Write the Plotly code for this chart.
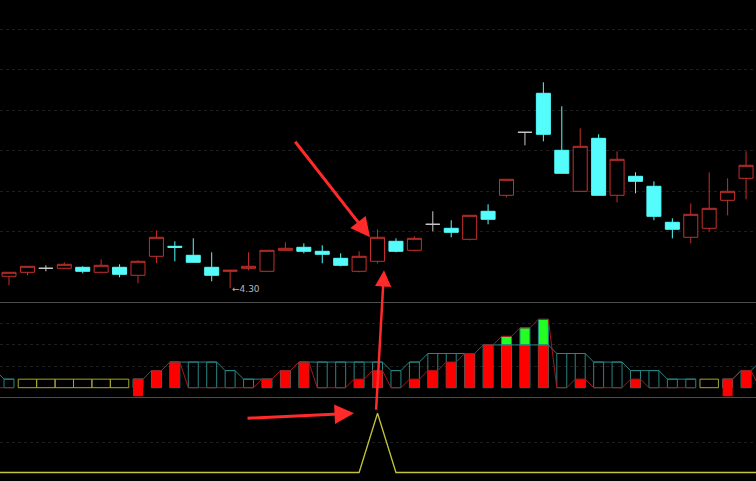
import plotly.graph_objects as go

# ---------------- price candles (bar index 0..40) ----------------
opens  = [4.42, 4.46, 4.50, 4.50, 4.51, 4.46, 4.51, 4.43, 4.62, 4.72,
          4.63, 4.51, 4.47, 4.50, 4.47, 4.68, 4.71, 4.67, 4.60, 4.47,
          4.57, 4.77, 4.68, 4.94, 4.90, 4.79, 5.07, 5.23, 5.86, 6.25,
          5.68, 5.27, 5.80, 5.23, 5.42, 5.32, 4.96, 4.81, 4.90, 5.18,
          5.40]
highs  = [4.46, 4.52, 4.53, 4.56, 4.52, 4.59, 4.54, 4.58, 4.88, 4.77,
          4.80, 4.66, 4.48, 4.66, 4.68, 4.76, 4.75, 4.73, 4.65, 4.67,
          4.89, 4.80, 4.82, 5.07, 4.98, 5.03, 5.14, 5.39, 5.86, 6.36,
          6.12, 5.90, 5.84, 5.67, 5.46, 5.37, 5.00, 5.15, 5.46, 5.40,
          5.67]
lows   = [4.33, 4.43, 4.47, 4.50, 4.45, 4.46, 4.41, 4.35, 4.55, 4.57,
          4.56, 4.37, 4.30, 4.48, 4.47, 4.68, 4.65, 4.55, 4.52, 4.46,
          4.55, 4.66, 4.67, 4.87, 4.81, 4.78, 4.94, 5.21, 5.73, 5.77,
          5.45, 5.27, 5.23, 5.16, 5.25, 4.98, 4.80, 4.75, 4.87, 5.03,
          5.19]
closes = [4.46, 4.52, 4.50, 4.54, 4.47, 4.53, 4.44, 4.57, 4.81, 4.71,
          4.56, 4.43, 4.48, 4.52, 4.68, 4.70, 4.67, 4.64, 4.53, 4.62,
          4.81, 4.67, 4.80, 4.94, 4.86, 5.03, 4.99, 5.39, 5.86, 5.84,
          5.45, 5.72, 5.23, 5.59, 5.37, 5.02, 4.89, 5.04, 5.10, 5.27,
          5.53]
low_label = "←4.30"
low_bar = 12

# ---------------- indicator panel (bar index -1..41) ----------------
ind_x = list(range(-1, 42))
teal_level = [2, 1, None, None, None, None, None, None, 1, 2, 3,
              3, 3, 2, 1, 1, 2, 3, 3, 3, 3,
              3, 2, 3, 4, 4, 4, 5, 5, 5, 5,
              4, 4, 3, 3, 2, 2, 1, 1, None, 1,
              2, 3]
yellow_level = [None, None, 1, 1, 1, 1, 1, 1, None, None, None,
                None, None, None, None, None, None, None, None, None, None,
                None, None, None, None, None, None, None, None, None, None,
                None, None, None, None, None, None, None, None, 1, None,
                None, None]
red_top = [None, None, None, None, None, None, None, None, 1, 2, 3,
           None, None, None, None, 1, 2, 3, None, None, 1,
           2, None, 1, 2, 3, 4, 5, 5, 5, 5,
           None, 1, None, None, 1, None, None, None, None, 1,
           2, None]
red_base = [0, 0, 0, 0, 0, 0, 0, 0, -1, 0, 0,
            0, 0, 0, 0, 0, 0, 0, 0, 0, 0,
            0, 0, 0, 0, 0, 0, 0, 0, 0, 0,
            0, 0, 0, 0, 0, 0, 0, 0, 0, -1,
            0, 0]
green_top = [None, None, None, None, None, None, None, None, None, None, None,
             None, None, None, None, None, None, None, None, None, None,
             None, None, None, None, None, None, None, 6, 7, 8,
             None, None, None, None, None, None, None, None, None, None,
             None, None]

# ---------------- signal panel (bar index -1..41) ----------------
signal = [0, 0, 0, 0, 0, 0, 0, 0, 0, 0, 0,
          0, 0, 0, 0, 0, 0, 0, 0, 0, 0,
          1, 0, 0, 0, 0, 0, 0, 0, 0, 0,
          0, 0, 0, 0, 0, 0, 0, 0, 0, 0,
          0, 0]

# ---------------- styles ----------------
RED = "#c4302c"
CYAN = "#54fcfc"
GREY = "#c8c8c8"
TEAL = "#288484"
OLIVE = "#a4a42c"
DARKRED = "#a81818"
BRIGHT_RED = "#ff0000"
GREEN = "#22ff22"
SIG = "#c4c43c"
GRID = "#1e1e1e"
ARROW = "#ff2a2a"
HW = 0.27  # half width of indicator bars (x units)


def stepped(xs, levels):
    sx, sy = [], []
    for x, v in zip(xs, levels):
        if v is None:
            sx.append(None); sy.append(None)
            continue
        sx += [x - HW, x + HW]
        sy += [v, v]
    return sx, sy


fig = go.Figure()

# candles
bars = list(range(len(opens)))
norm = [i for i in bars if opens[i] != closes[i]]
doji = [i for i in bars if opens[i] == closes[i]]
fig.add_trace(go.Candlestick(
    x=norm, open=[opens[i] for i in norm], high=[highs[i] for i in norm],
    low=[lows[i] for i in norm], close=[closes[i] for i in norm],
    increasing=dict(line=dict(color=RED, width=1), fillcolor="#000000"),
    decreasing=dict(line=dict(color=CYAN, width=1), fillcolor=CYAN),
    whiskerwidth=0, hoverinfo="skip", xaxis="x", yaxis="y", showlegend=False))
fig.add_trace(go.Candlestick(
    x=doji, open=[opens[i] for i in doji], high=[highs[i] for i in doji],
    low=[lows[i] for i in doji], close=[closes[i] for i in doji],
    increasing=dict(line=dict(color=GREY, width=1), fillcolor=GREY),
    decreasing=dict(line=dict(color=GREY, width=1), fillcolor=GREY),
    whiskerwidth=0, hoverinfo="skip", xaxis="x", yaxis="y", showlegend=False))

# indicator: teal hollow boxes
tx = [x for x, v in zip(ind_x, teal_level) if v is not None]
tv = [v for v in teal_level if v is not None]
fig.add_trace(go.Bar(x=tx, y=tv, base=0, width=2 * HW, xaxis="x2", yaxis="y2",
                     marker=dict(color="rgba(0,0,0,0)", line=dict(color=TEAL, width=1)),
                     hoverinfo="skip", showlegend=False))
# yellow hollow boxes
yx = [x for x, v in zip(ind_x, yellow_level) if v is not None]
yv = [v for v in yellow_level if v is not None]
fig.add_trace(go.Bar(x=yx, y=yv, base=0, width=1.0, xaxis="x2", yaxis="y2",
                     marker=dict(color="rgba(0,0,0,0)", line=dict(color=OLIVE, width=1)),
                     hoverinfo="skip", showlegend=False))
# red filled bars
rx = [x for x, v in zip(ind_x, red_top) if v is not None]
rb = [b for b, v in zip(red_base, red_top) if v is not None]
rh = [v - b for b, v in zip(red_base, red_top) if v is not None]
fig.add_trace(go.Bar(x=rx, y=rh, base=rb, width=2 * HW, xaxis="x2", yaxis="y2",
                     marker=dict(color=BRIGHT_RED, line=dict(width=0)),
                     hoverinfo="skip", showlegend=False))
# green bars on top of red
gx = [x for x, v in zip(ind_x, green_top) if v is not None]
gb = [r for r, v in zip(red_top, green_top) if v is not None]
gh = [v - r for r, v in zip(red_top, green_top) if v is not None]
fig.add_trace(go.Bar(x=gx, y=gh, base=gb, width=2 * HW, xaxis="x2", yaxis="y2",
                     marker=dict(color=GREEN, line=dict(color=TEAL, width=1)),
                     hoverinfo="skip", showlegend=False))
# teal level line
sx, sy = stepped(ind_x, teal_level)
fig.add_trace(go.Scatter(x=sx, y=sy, mode="lines", xaxis="x2", yaxis="y2",
                         line=dict(color=TEAL, width=1), connectgaps=False,
                         hoverinfo="skip", showlegend=False))
# dark red line through bar tops
tops = []
for yl, r, g in zip(yellow_level, red_top, green_top):
    if yl is not None:
        tops.append(None)
    elif g is not None:
        tops.append(g)
    elif r is not None:
        tops.append(r)
    else:
        tops.append(0)
dx, dy = stepped(ind_x, tops)
fig.add_trace(go.Scatter(x=dx, y=dy, mode="lines", xaxis="x2", yaxis="y2",
                         line=dict(color=DARKRED, width=1), connectgaps=False,
                         hoverinfo="skip", showlegend=False))

# signal line
fig.add_trace(go.Scatter(x=ind_x, y=signal, mode="lines", xaxis="x3", yaxis="y3",
                         line=dict(color=SIG, width=1.3), hoverinfo="skip", showlegend=False))

H = 481.0
xr = [-0.489, 40.54]
fig.update_layout(
    width=756, height=481, margin=dict(l=0, r=0, t=0, b=0),
    paper_bgcolor="#000000", plot_bgcolor="#000000",
    barmode="overlay", boxgap=0.24, boxgroupgap=0,
    showlegend=False, hovermode=False,
    xaxis=dict(domain=[0, 1], range=xr, anchor="y", showticklabels=False, showgrid=False,
               zeroline=False, showline=False, rangeslider=dict(visible=False), fixedrange=True),
    xaxis2=dict(domain=[0, 1], range=xr, anchor="y2", matches="x", showticklabels=False,
                showgrid=False, zeroline=False, showline=True, mirror=True,
                linecolor="#4c4c4c", linewidth=1),
    xaxis3=dict(domain=[0, 1], range=xr, anchor="y3", matches="x", showticklabels=False,
                showgrid=False, zeroline=False, showline=False),
    yaxis=dict(domain=[1 - 303 / H, 1], range=[4.153, 7.183], showticklabels=False,
               tickvals=[4.866, 5.273, 5.678, 6.083, 6.488, 6.893],
               showgrid=True, gridcolor=GRID, griddash="dot", gridwidth=1, zeroline=False),
    yaxis2=dict(domain=[1 - 397 / H, 1 - 303 / H], range=[-1.088, 9.906], showticklabels=False,
                tickvals=[2.5, 5.0, 7.5], showgrid=True, gridcolor=GRID, griddash="dot",
                zeroline=False),
    yaxis3=dict(domain=[0, 1 - 397 / H], range=[-0.1436, 1.275], showticklabels=False,
                tickvals=[0.5], showgrid=True, gridcolor=GRID, griddash="dot", zeroline=False),
)

# low price label
fig.add_annotation(x=low_bar, y=lows[low_bar], xref="x", yref="y", text=low_label,
                   showarrow=False, xanchor="left", yanchor="middle", yshift=-1,
                   font=dict(family="DejaVu Sans", size=9, color="#b8b8b8"))

# red hand-drawn style arrows
sig_bar = ind_x[signal.index(1)]
fig.add_annotation(x=sig_bar, y=closes[sig_bar], xref="x", yref="y", xshift=-7.5,
                   ax=-76, ay=-97, showarrow=True, arrowhead=2, arrowsize=1.3,
                   arrowwidth=3, arrowcolor=ARROW, text="")
fig.add_annotation(x=sig_bar, y=lows[sig_bar], xref="x", yref="y", xshift=6.5, yshift=-7,
                   ax=-8, ay=141, showarrow=True, arrowhead=2, arrowsize=1.3,
                   arrowwidth=2.5, arrowcolor=ARROW, text="")
fig.add_annotation(x=sig_bar, y=1, xref="x3", yref="y3", xshift=-23.5,
                   ax=-108, ay=5, showarrow=True, arrowhead=2, arrowsize=1.3,
                   arrowwidth=3, arrowcolor=ARROW, text="")

fig.write_html("out.html", config={"displayModeBar": False},
               post_script="document.body.style.margin='0';document.body.style.background='#000';")
